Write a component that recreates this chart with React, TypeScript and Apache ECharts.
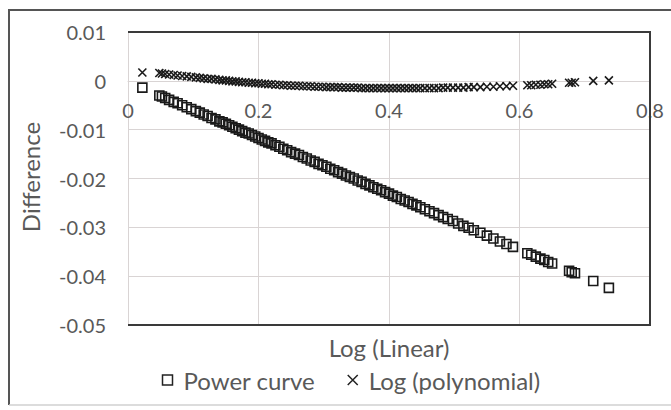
import React, { useEffect, useRef } from "react";
import * as echarts from "echarts";

const xValues: number[] = [
  0.022, 0.048, 0.052, 0.057, 0.063, 0.070, 0.076, 0.083, 0.090, 0.097,
  0.104, 0.110, 0.116, 0.122, 0.128, 0.134, 0.140, 0.145, 0.150, 0.155,
  0.160, 0.165, 0.170, 0.175, 0.180, 0.185, 0.190, 0.195, 0.200, 0.205,
  0.210, 0.215, 0.220, 0.226, 0.232, 0.238, 0.244, 0.250, 0.256, 0.262,
  0.268, 0.274, 0.280, 0.286, 0.292, 0.298, 0.304, 0.310, 0.316, 0.322,
  0.328, 0.334, 0.340, 0.346, 0.352, 0.358, 0.364, 0.370, 0.376, 0.382,
  0.388, 0.394, 0.400, 0.406, 0.412, 0.418, 0.424, 0.430, 0.436, 0.442,
  0.448, 0.455, 0.462, 0.469, 0.476, 0.483, 0.490, 0.498, 0.506, 0.514,
  0.522, 0.530, 0.540, 0.550, 0.560, 0.570, 0.580, 0.590, 0.612, 0.618,
  0.625, 0.632, 0.638, 0.644, 0.650, 0.676, 0.680, 0.685, 0.713, 0.737,
];

const powerCurve: number[] = [
  -0.0014, -0.0030, -0.0032, -0.0035, -0.0039, -0.0043, -0.0046, -0.0050, -0.0054, -0.0058,
  -0.0062, -0.0065, -0.0069, -0.0072, -0.0076, -0.0079, -0.0083, -0.0085, -0.0088, -0.0091,
  -0.0094, -0.0097, -0.0100, -0.0103, -0.0106, -0.0108, -0.0111, -0.0114, -0.0117, -0.0120,
  -0.0123, -0.0126, -0.0128, -0.0132, -0.0135, -0.0139, -0.0142, -0.0146, -0.0149, -0.0152,
  -0.0156, -0.0159, -0.0163, -0.0166, -0.0170, -0.0173, -0.0176, -0.0180, -0.0183, -0.0187,
  -0.0190, -0.0194, -0.0197, -0.0200, -0.0204, -0.0207, -0.0211, -0.0214, -0.0218, -0.0221,
  -0.0224, -0.0228, -0.0231, -0.0235, -0.0238, -0.0242, -0.0245, -0.0248, -0.0252, -0.0255,
  -0.0259, -0.0263, -0.0267, -0.0271, -0.0275, -0.0279, -0.0283, -0.0287, -0.0292, -0.0297,
  -0.0301, -0.0306, -0.0311, -0.0317, -0.0323, -0.0329, -0.0334, -0.0340, -0.0353, -0.0356,
  -0.0360, -0.0364, -0.0367, -0.0371, -0.0374, -0.0389, -0.0392, -0.0394, -0.0410, -0.0424,
];

const logPolynomial: number[] = [
  0.0017, 0.0016, 0.0015, 0.0014, 0.0013, 0.0012, 0.0011, 0.0010, 0.0009, 0.0008,
  0.0007, 0.0006, 0.0005, 0.0004, 0.0004, 0.0003, 0.0002, 0.0001, 0.0001, 0.0000,
  -0.0001, -0.0001, -0.0002, -0.0003, -0.0003, -0.0004, -0.0004, -0.0005, -0.0005, -0.0006,
  -0.0006, -0.0007, -0.0007, -0.0008, -0.0008, -0.0009, -0.0009, -0.0010, -0.0010, -0.0010,
  -0.0011, -0.0011, -0.0011, -0.0012, -0.0012, -0.0012, -0.0013, -0.0013, -0.0013, -0.0013,
  -0.0014, -0.0014, -0.0014, -0.0014, -0.0014, -0.0015, -0.0015, -0.0015, -0.0015, -0.0015,
  -0.0015, -0.0015, -0.0015, -0.0015, -0.0015, -0.0015, -0.0015, -0.0015, -0.0015, -0.0015,
  -0.0015, -0.0015, -0.0015, -0.0015, -0.0015, -0.0014, -0.0014, -0.0014, -0.0014, -0.0014,
  -0.0013, -0.0013, -0.0013, -0.0012, -0.0012, -0.0011, -0.0011, -0.0010, -0.0009, -0.0009,
  -0.0008, -0.0008, -0.0007, -0.0007, -0.0006, -0.0004, -0.0004, -0.0003, 0.0000, 0.0001,
];

const seriesNames: string[] = ["Power curve", "Log (polynomial)"];
const xAxisTitle = "Log (Linear)";
const yAxisTitle = "Difference";

const FONT = "Lato";
const TEXT = "#595959";
const CROSS = "path://M0,0L10,10M10,0L0,10";

const G = { left: 128, top: 32, right: 650, bottom: 325 };
const Y_MIN = -0.05;
const Y_MAX = 0.01;
// pixel row of y = 0 inside the plot, used to lift the x axis to the zero line
const ZERO_OFFSET = -((G.bottom - G.top) * (0 - Y_MIN)) / (Y_MAX - Y_MIN);

export default function App() {
  const ref = useRef<HTMLDivElement>(null);
  useEffect(() => {
    if (!ref.current) return;
    const chart = echarts.init(ref.current, null, { renderer: "svg" });
    const pts = (ys: number[]) => xValues.map((x, i) => [x, ys[i]]);
    chart.setOption({
      animation: false,
      backgroundColor: "#fff",
      textStyle: { fontFamily: FONT },
      grid: { left: G.left, top: G.top, width: G.right - G.left, height: G.bottom - G.top },
      xAxis: {
        type: "value",
        min: 0,
        max: 0.8,
        interval: 0.2,
        offset: ZERO_OFFSET,
        axisLine: { show: true, onZero: false, lineStyle: { color: "#d9d4d4", width: 1 } },
        axisTick: { show: false },
        axisLabel: {
          color: TEXT,
          fontSize: 20,
          fontFamily: FONT,
          margin: 19,
          showMaxLabel: true,
          formatter: (v: number) => String(+v.toFixed(1)),
        },
        splitLine: { show: true, lineStyle: { color: "#d9d4d4", width: 1 } },
      },
      yAxis: {
        type: "value",
        min: Y_MIN,
        max: Y_MAX,
        interval: 0.01,
        axisLine: { show: false },
        axisTick: { show: false },
        axisLabel: {
          color: TEXT,
          fontSize: 20,
          fontFamily: FONT,
          margin: 22,
          formatter: (v: number) => String(+v.toFixed(2)),
        },
        splitLine: { show: true, lineStyle: { color: "#d9d4d4", width: 1 } },
      },
      legend: {
        left: 160,
        top: 368,
        padding: 0,
        itemWidth: 10,
        itemHeight: 10,
        itemGap: 30,
        textStyle: { color: TEXT, fontSize: 24, fontFamily: FONT, padding: [0, 0, 0, 6] },
        data: [
          { name: seriesNames[0], icon: "rect", itemStyle: { color: "none", borderColor: "#222", borderWidth: 1.5 } },
          { name: seriesNames[1], icon: CROSS, itemStyle: { color: "none", borderColor: "#222", borderWidth: 1.5 } },
        ],
      },
      series: [
        {
          name: seriesNames[0],
          type: "scatter",
          symbol: "rect",
          symbolSize: 9,
          itemStyle: { color: "none", borderColor: "#1a1a1a", borderWidth: 1.6, opacity: 1 },
          data: pts(powerCurve),
        },
        {
          name: seriesNames[1],
          type: "scatter",
          symbol: CROSS,
          symbolSize: 8,
          itemStyle: { color: "none", borderColor: "#1a1a1a", borderWidth: 1.6, opacity: 1 },
          data: pts(logPolynomial),
        },
      ],
      graphic: [
        {
          type: "polyline",
          silent: true,
          z: 10,
          shape: { points: [[G.left, G.top], [G.right, G.top], [G.right, G.bottom], [G.left, G.bottom]] },
          style: { stroke: "#3a3a3a", lineWidth: 2, fill: "none" },
        },
        { type: "line", silent: true, shape: { x1: 8, y1: 10, x2: 671, y2: 10 }, style: { stroke: "#555", lineWidth: 2 } },
        { type: "line", silent: true, shape: { x1: 9, y1: 10, x2: 9, y2: 405 }, style: { stroke: "#555", lineWidth: 2 } },
        { type: "line", silent: true, shape: { x1: 9, y1: 405, x2: 671, y2: 405 }, style: { stroke: "#d0d0d0", lineWidth: 1.5 } },
        {
          type: "text",
          silent: true,
          x: (G.left + G.right) / 2,
          y: 347,
          style: { text: xAxisTitle, fill: TEXT, font: `24px ${FONT}`, align: "center", verticalAlign: "middle" },
        },
        {
          type: "text",
          silent: true,
          x: 30,
          y: 177,
          rotation: Math.PI / 2,
          style: { text: yAxisTitle, fill: TEXT, font: `24px ${FONT}`, align: "center", verticalAlign: "middle" },
        },
      ],
    });
    return () => chart.dispose();
  }, []);
  return <div ref={ref} style={{ position: "absolute", left: 0, top: 0, width: 671, height: 410 }} />;
}
